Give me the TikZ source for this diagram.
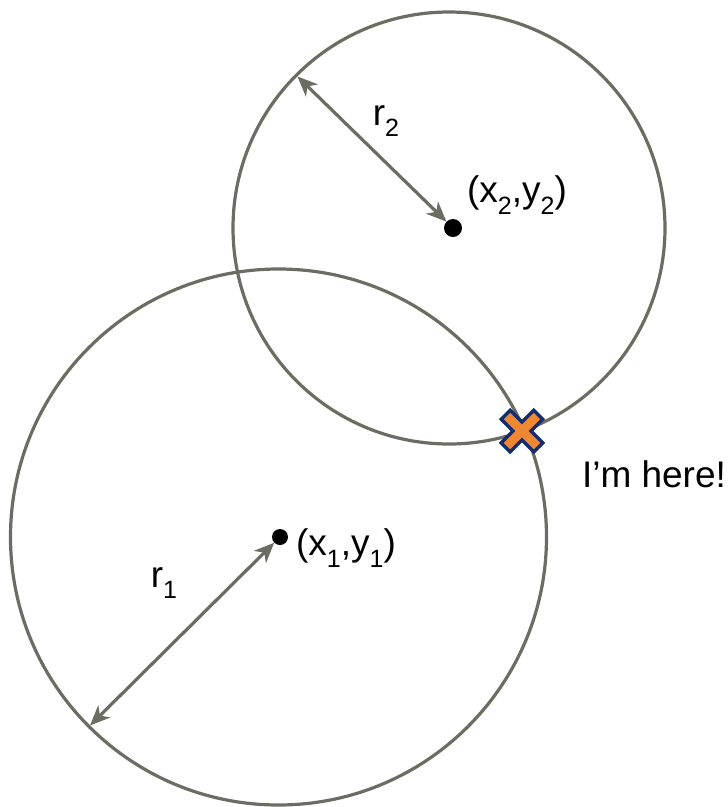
\documentclass[tikz,border=0pt]{standalone}
\usepackage{fontspec}
\setmainfont{Liberation Sans}
\usetikzlibrary{arrows.meta,calc}
\definecolor{circgray}{RGB}{108,109,98}
\definecolor{xorange}{RGB}{240,135,50}
\definecolor{xnavy}{RGB}{20,45,110}
\newcommand{\mysub}[1]{\raisebox{-0.32em}{\fontsize{25}{25}\selectfont #1}}
\tikzset{
  circline/.style={draw=circgray, line width=3.2pt},
  radarrow/.style={draw=circgray, line width=3.2pt, {Stealth[length=20pt,width=17pt,inset=6pt]}-{Stealth[length=20pt,width=17pt,inset=6pt]}},
  centerdot/.style={circle, fill=black, inner sep=0pt},
  lbl/.style={font=\fontsize{37}{40}\selectfont, inner sep=0pt, anchor=center}
}
\begin{document}
\begin{tikzpicture}[x=1pt,y=-1pt]
\useasboundingbox (0,0) rectangle (728,807);
% circles
\coordinate (c1) at (278.5,537);
\coordinate (c2) at (449,228);
\draw[circline] (c1) circle (268);
\draw[circline] (c2) circle (216);
% dots
\node[centerdot, minimum size=16pt] (d1) at (280,537) {};
\node[centerdot, minimum size=18pt] (d2) at (453,228) {};
% radius arrows
\coordinate (e1) at ($(c1)+(-188.5,188.5)$);
\coordinate (e2) at ($(c2)+(-151.5,-151.5)$);
\draw[radarrow] (e1) -- (d1);
\draw[radarrow] (e2) -- (d2);
% labels
\node[lbl] (lr2) at (386,121) {r\mysub{2}};
\node[lbl] (lr1) at (164,583) {r\mysub{1}};
\node[lbl] (lp2) at (517,195) {(x\mysub{2},y\mysub{2})};
\node[lbl] (lp1) at (346,548) {(x\mysub{1},y\mysub{1})};
\node[lbl] (here) at (654,474) {I’m here!};
% X marker
\coordinate (xc) at (522,431);
\draw[xnavy, line width=16pt] ($(xc)+(-17.5,-17.5)$) -- ($(xc)+(17.5,17.5)$);
\draw[xnavy, line width=16pt] ($(xc)+(-17.5,17.5)$) -- ($(xc)+(17.5,-17.5)$);
\draw[xorange, line width=9pt] ($(xc)+(-15,-15)$) -- ($(xc)+(15,15)$);
\draw[xorange, line width=9pt] ($(xc)+(-15,15)$) -- ($(xc)+(15,-15)$);
\end{tikzpicture}
\end{document}
